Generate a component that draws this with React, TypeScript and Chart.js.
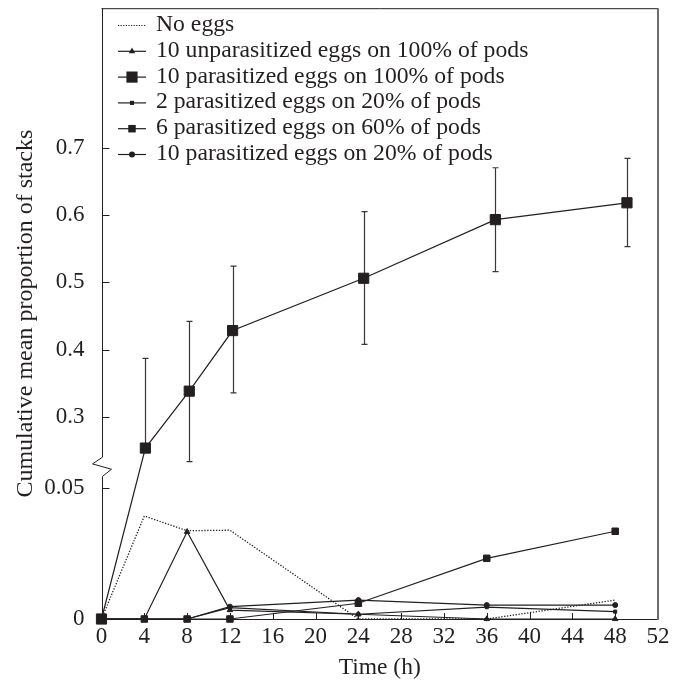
import React, { useEffect, useRef } from 'react';
import { Chart, registerables } from 'chart.js';

Chart.register(...registerables);

// ---------- data ----------
const hours = [0, 4, 8, 12, 24, 36, 48];
const hoursParasitized100 = [0, 4.1, 8.2, 12.25, 24.5, 36.8, 49.1];

const noEggs = [0, 0.0392, 0.0336, 0.0338, 0, 0, 0.0072];
const unparasitized10on100 = [0, 0, 0.0332, 0.0034, 0.0018, 0, 0];
const parasitized10on100 = [0, 0.254, 0.3385, 0.4284, 0.506, 0.593, 0.618];
const parasitized10on100Upper = [null, 0.387, 0.442, 0.524, 0.605, 0.67, 0.684];
const parasitized10on100Lower = [null, null, 0.234, 0.336, 0.408, 0.516, 0.553];
const parasitized2on20 = [0, 0, 0, 0.0043, 0.0018, 0.0045, 0.0028];
const parasitized6on60 = [0, 0, 0, 0, 0.006, 0.0231, 0.0334];
const parasitized10on20 = [0, 0, 0, 0.0047, 0.0072, 0.0053, 0.0053];

const seriesLabels = [
  'No eggs',
  '10 unparasitized eggs on 100% of pods',
  '10 parasitized eggs on 100% of pods',
  '2 parasitized eggs on 20% of pods',
  '6 parasitized eggs on 60% of pods',
  '10 parasitized eggs on 20% of pods',
];

const xTickValues = [0, 4, 8, 12, 16, 20, 24, 28, 32, 36, 40, 44, 48, 52];
const yTickValues = [0, 0.05, 0.3, 0.4, 0.5, 0.6, 0.7];
const yTickLabels = ['0', '0.05', '0.3', '0.4', '0.5', '0.6', '0.7'];

// ---------- broken axis mapping ----------
const UPPER_OFFSET = 0.07686;
const UPPER_SCALE = 0.2565;
const Y_AXIS_MAX = 0.2325;
const BREAK_FROM = 0.0543;
const BREAK_TO = 0.0616;
function toAxis(v: number): number {
  return v <= 0.1 ? v : UPPER_OFFSET + (v - 0.3) * UPPER_SCALE;
}

const INK = '#231f20';
const FONT = "'Liberation Serif', 'Times New Roman', serif";

type Marker = { style: string; radius: number };
const markers: Marker[] = [
  { style: 'none', radius: 0 },
  { style: 'triangle', radius: 3.2 },
  { style: 'rect', radius: 7.2 },
  { style: 'rect', radius: 2.2 },
  { style: 'rect', radius: 4.6 },
  { style: 'circle', radius: 2.5 },
];

function drawMarker(ctx: CanvasRenderingContext2D, m: Marker, x: number, y: number) {
  if (m.style === 'none') return;
  ctx.beginPath();
  if (m.style === 'rect') {
    const s = Math.SQRT1_2 * m.radius + 0.5;
    ctx.rect(x - s, y - s, 2 * s, 2 * s);
  } else if (m.style === 'circle') {
    ctx.arc(x, y, m.radius + 0.5, 0, Math.PI * 2);
  } else if (m.style === 'triangle') {
    const r = m.radius + 0.5;
    ctx.moveTo(x, y - r);
    ctx.lineTo(x + r * Math.sin(Math.PI * 2 / 3), y - r * Math.cos(Math.PI * 2 / 3));
    ctx.lineTo(x + r * Math.sin(Math.PI * 4 / 3), y - r * Math.cos(Math.PI * 4 / 3));
    ctx.closePath();
  }
  ctx.fill();
}

const framePlugin = {
  id: 'frameAndBars',
  beforeDatasetsDraw(chart: any) {
    const { ctx, chartArea: a, scales } = chart;
    const xs = scales.x;
    const ys = scales.y;
    ctx.save();
    ctx.strokeStyle = INK;
    ctx.lineWidth = 1;
    ctx.beginPath();
    ctx.moveTo(a.left, a.top + 0.5);
    ctx.lineTo(a.right, a.top + 0.5);
    ctx.moveTo(a.left, a.bottom + 0.5);
    ctx.lineTo(a.right + 0.5, a.bottom + 0.5);
    ctx.stroke();
    // right border (grey, a bit thicker)
    ctx.save();
    ctx.strokeStyle = '#6d6b6b';
    ctx.lineWidth = 2;
    ctx.beginPath();
    ctx.moveTo(a.right, a.top);
    ctx.lineTo(a.right, a.bottom + 1);
    ctx.stroke();
    ctx.restore();
    // left axis with break
    const L = Math.round(a.left) + 0.5;
    const bTop = ys.getPixelForValue(BREAK_TO);
    const bBot = ys.getPixelForValue(BREAK_FROM);
    const h = bBot - bTop;
    ctx.beginPath();
    ctx.moveTo(L, a.top);
    ctx.lineTo(L, bTop);
    ctx.lineTo(L - 10, bTop + h * 0.35);
    ctx.lineTo(L + 9, bTop + h * 0.63);
    ctx.lineTo(L, bBot);
    ctx.lineTo(L, a.bottom + 1);
    ctx.stroke();
    // inward ticks
    ctx.beginPath();
    xTickValues.forEach((t) => {
      if (t === 0 || t === 52) return;
      const px = Math.round(xs.getPixelForValue(t)) + 0.5;
      ctx.moveTo(px, a.bottom);
      ctx.lineTo(px, a.bottom - 6);
    });
    yTickValues.forEach((v) => {
      if (v === 0) return;
      const py = Math.round(ys.getPixelForValue(toAxis(v))) + 0.5;
      ctx.moveTo(L, py);
      ctx.lineTo(L + 7, py);
    });
    ctx.stroke();
    // error bars
    ctx.strokeStyle = '#3a3738';
    ctx.lineWidth = 1.2;
    ctx.beginPath();
    hoursParasitized100.forEach((t, i) => {
      const mid = parasitized10on100[i];
      const hi = parasitized10on100Upper[i];
      const lo = parasitized10on100Lower[i];
      const px = Math.round(xs.getPixelForValue(t)) + 0.5;
      const pm = ys.getPixelForValue(toAxis(mid));
      if (hi != null) {
        const ph = ys.getPixelForValue(toAxis(hi));
        ctx.moveTo(px, pm);
        ctx.lineTo(px, ph);
        ctx.moveTo(px - 3, ph);
        ctx.lineTo(px + 3, ph);
      }
      if (lo != null) {
        const pl = ys.getPixelForValue(toAxis(lo));
        ctx.moveTo(px, pm);
        ctx.lineTo(px, pl);
        ctx.moveTo(px - 3, pl);
        ctx.lineTo(px + 3, pl);
      }
    });
    ctx.stroke();
    ctx.restore();
  },
  afterDraw(chart: any) {
    const { ctx } = chart;
    ctx.save();
    ctx.font = `23.7px ${FONT}`;
    ctx.textBaseline = 'alphabetic';
    ctx.textAlign = 'left';
    seriesLabels.forEach((label, i) => {
      const y = 25 + i * 25.8;
      ctx.strokeStyle = INK;
      ctx.fillStyle = INK;
      ctx.lineWidth = 1.2;
      ctx.setLineDash(i === 0 ? [1.2, 1.4] : []);
      ctx.beginPath();
      ctx.moveTo(118, y + 0.5);
      ctx.lineTo(146, y + 0.5);
      ctx.stroke();
      ctx.setLineDash([]);
      drawMarker(ctx, markers[i], 132, y + 0.5);
      ctx.fillText(label, 156, y + 6);
    });
    ctx.restore();
  },
};

function pts(xs: number[], ys: number[]) {
  return xs.map((x, i) => ({ x, y: toAxis(ys[i]) }));
}

export default function App() {
  const canvasRef = useRef<HTMLCanvasElement | null>(null);

  useEffect(() => {
    document.body.style.margin = '0';
    const canvas = canvasRef.current;
    if (!canvas) return;
    const seriesData = [
      pts(hours, noEggs),
      pts(hours, unparasitized10on100),
      pts(hoursParasitized100, parasitized10on100),
      pts(hours, parasitized2on20),
      pts(hours, parasitized6on60),
      pts(hours, parasitized10on20),
    ];
    const datasets = seriesData.map((d, i) => ({
      label: seriesLabels[i],
      data: d,
      borderColor: INK,
      backgroundColor: INK,
      borderWidth: i === 0 ? 1.3 : 1.2,
      borderDash: i === 0 ? [1.3, 1.6] : [],
      pointStyle: markers[i].style === 'none' ? 'circle' : markers[i].style,
      pointRadius: markers[i].radius,
      pointBorderWidth: 1,
      pointBorderColor: INK,
      pointBackgroundColor: INK,
      tension: 0,
      clip: false as any,
      order: 6 - i,
    }));

    const chart = new Chart(canvas, {
      type: 'line',
      data: { datasets },
      plugins: [framePlugin],
      options: {
        animation: false,
        responsive: false,
        devicePixelRatio: 1,
        parsing: false as any,
        layout: { padding: { top: 7, right: 23, left: 0, bottom: 0 } },
        plugins: {
          legend: { display: false },
          tooltip: { enabled: false },
          title: { display: false },
        },
        scales: {
          x: {
            type: 'linear',
            min: 0,
            max: 52,
            grid: { display: false, drawTicks: false },
            border: { display: false },
            afterBuildTicks: (scale: any) => {
              scale.ticks = xTickValues.map((v) => ({ value: v }));
            },
            afterFit: (scale: any) => {
              scale.height = 63;
              scale.paddingLeft = 0;
              scale.paddingRight = 0;
              scale.paddingTop = 0;
              scale.paddingBottom = 0;
            },
            ticks: {
              autoSkip: false,
              maxRotation: 0,
              padding: 4,
              color: INK,
              font: { family: FONT, size: 23 },
              callback: (v: any) => String(v),
            },
            title: {
              display: true,
              text: 'Time (h)',
              color: INK,
              font: { family: FONT, size: 23.5 },
              padding: { top: 0, bottom: 0 },
            },
          },
          y: {
            type: 'linear',
            min: 0,
            max: Y_AXIS_MAX,
            grid: { display: false, drawTicks: false },
            border: { display: false },
            afterBuildTicks: (scale: any) => {
              scale.ticks = yTickValues.map((v) => ({ value: toAxis(v) }));
            },
            afterFit: (scale: any) => {
              scale.width = 101.5;
              scale.paddingLeft = 0;
              scale.paddingRight = 0;
              scale.paddingTop = 0;
              scale.paddingBottom = 0;
            },
            ticks: {
              autoSkip: false,
              padding: 17,
              color: INK,
              font: { family: FONT, size: 23 },
              callback: (_v: any, idx: number) => yTickLabels[idx],
            },
            title: {
              display: true,
              text: 'Cumulative mean proportion of stacks',
              color: INK,
              font: { family: FONT, size: 24 },
              padding: { top: 11, bottom: 0 },
            },
          },
        },
      },
    });
    return () => chart.destroy();
  }, []);

  return (
    <div style={{ width: 681, height: 682, background: '#fff' }}>
      <canvas ref={canvasRef} width={681} height={682} style={{ display: 'block' }} />
    </div>
  );
}
